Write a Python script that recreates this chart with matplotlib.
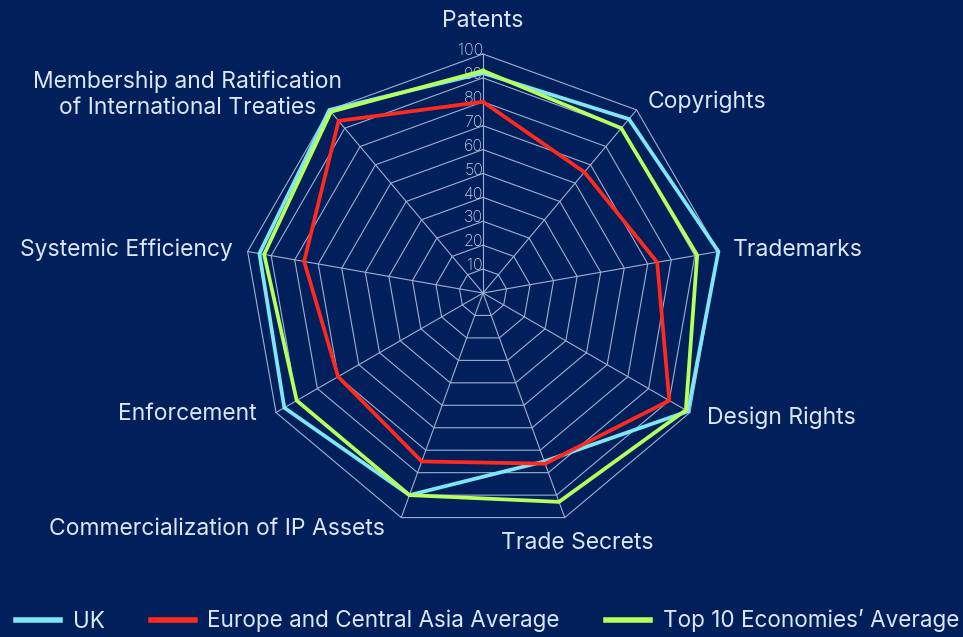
import numpy as np
import matplotlib.pyplot as plt
from matplotlib.lines import Line2D
from matplotlib.transforms import offset_copy

categories = ['Patents', 'Copyrights', 'Trademarks', 'Design Rights', 'Trade Secrets',
              'Commercialization of IP Assets', 'Enforcement', 'Systemic Efficiency',
              'Membership and Ratification\nof International Treaties']
uk = [92, 95, 100, 99, 75, 90, 96, 95, 100]
eca_avg = [80, 66, 74, 90, 76, 75, 70, 76, 94]
top10_avg = [93, 90, 91, 98, 93, 90, 90, 93, 99]
ticks = [10, 20, 30, 40, 50, 60, 70, 80, 90, 100]

bg = '#001f5b'
grid_col = '#9fb0cf'
text_col = '#dce8f7'
colors = {'UK': '#7fe6f5', 'Europe and Central Asia Average': '#ff2a1d',
          "Top 10 Economies\u2019 Average": '#b6ff5c'}

plt.rcParams['font.family'] = ['Inter', 'DejaVu Sans']

fig = plt.figure(figsize=(9.63, 6.37), dpi=100, facecolor=bg)
W, H = 963, 637
cx, cy, R = 483, 293, 239
ax = fig.add_axes([(cx - R) / W, (H - cy - R) / H, 2 * R / W, 2 * R / H], projection='polar')
ax.set_facecolor('none')
ax.set_theta_offset(np.pi / 2)
ax.set_theta_direction(-1)
ax.set_ylim(0, 100)
ax.grid(False)
ax.spines['polar'].set_visible(False)
ax.set_xticks([])
ax.set_yticks([])

n = len(categories)
angles = np.linspace(0, 2 * np.pi, n, endpoint=False)
closed = np.append(angles, angles[0])

# polygon grid + spokes
for t in ticks:
    ax.plot(closed, [t] * (n + 1), color=grid_col, lw=0.8, clip_on=False, zorder=1)
for a in angles:
    ax.plot([a, a], [0, 100], color=grid_col, lw=0.8, clip_on=False, zorder=1)

# radial tick labels
for t in ticks:
    ax.text(0, t + 1.4, str(t), ha='right', va='center', fontsize=11.5,
            fontweight='light', color='#c9d4e8', zorder=2)

# data
for name, vals in [('UK', uk), ('Europe and Central Asia Average', eca_avg),
                   ("Top 10 Economies\u2019 Average", top10_avg)]:
    ax.plot(closed, vals + vals[:1], color=colors[name], lw=2.7, clip_on=False,
            zorder=3, solid_joinstyle='miter')

# category labels
lab_tr = offset_copy(ax.transData, fig=fig, x=0, y=-2.5, units='dots')
aligns = ['center', 'left', 'left', 'left', 'center', 'right', 'right', 'right', 'right']
radii = [115, 106.6, 106.4, 106.7, 111, 106, 106.7, 106.4, 102.5]
shift = [0, 0.4, -0.4, -1.4, -0.8, 2.7, 2.4, 0.4, 5]
for a, lab, ha, r, s in zip(angles, categories, aligns, radii, shift):
    ax.text(a + np.radians(s), r, lab, ha=ha, va='center', fontsize=16.5, color=text_col,
            multialignment='center', clip_on=False, transform=lab_tr)

handles = [Line2D([], [], color=c, lw=4) for c in colors.values()]
fig.legend(handles, list(colors.keys()), loc='center', bbox_to_anchor=(487.5 / W, 1 - 621 / H),
           ncol=3, frameon=False, fontsize=16.2, labelcolor=text_col, handlelength=1.96,
           columnspacing=2.03, handletextpad=0.57, borderpad=0, borderaxespad=0)

fig.savefig('out.png', dpi=100, facecolor=bg)
